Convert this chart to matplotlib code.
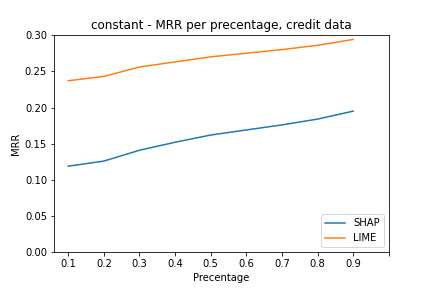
import matplotlib
matplotlib.use('Agg')
from matplotlib import pyplot as plt

percentages = [0.1, 0.2, 0.3, 0.4, 0.5, 0.6, 0.7, 0.8, 0.9]
shap_mrr = [0.119, 0.126, 0.141, 0.152, 0.162, 0.169, 0.176, 0.184, 0.195]
lime_mrr = [0.237, 0.243, 0.256, 0.263, 0.270, 0.275, 0.280, 0.286, 0.294]
tick_pos = [0.1, 0.2, 0.3, 0.4, 0.5, 0.6, 0.7, 0.8, 0.9, 1.0]
tick_labels = ['0.1', '0.2', '0.3', '0.4', '0.5', '0.6', '0.7', '0.8', '0.9', '']

fig = plt.figure(figsize=(6, 4), dpi=72)
ax = fig.add_subplot(111)
fig.subplots_adjust(left=0.125, right=0.9, top=0.878, bottom=0.124)
ax.plot(percentages, shap_mrr, label='SHAP')
ax.plot(percentages, lime_mrr, label='LIME')
plt.xticks(tick_pos, tick_labels)
plt.ylim((0, 0.3))
plt.title('constant - MRR per precentage, credit data')
plt.xlabel('Precentage')
plt.ylabel('MRR')
plt.legend(loc='lower right')
plt.savefig('out.png', dpi=72)
